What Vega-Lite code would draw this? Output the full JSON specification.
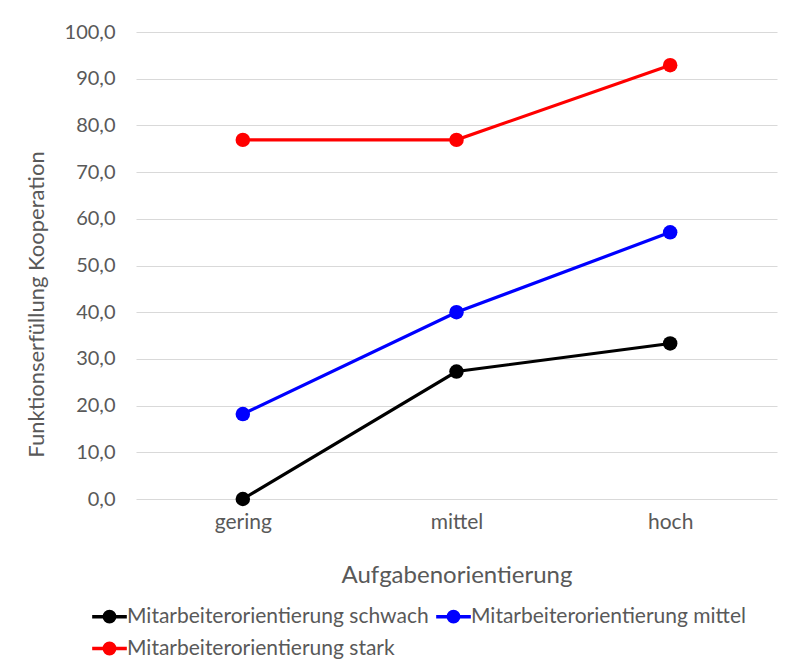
{
  "$schema": "https://vega.github.io/schema/vega-lite/v6.json",
  "autosize": "none",
  "width": 641,
  "height": 467,
  "padding": {"left": 136, "top": 32, "right": 12, "bottom": 164},
  "background": "white",
  "config": {
    "font": "Lato",
    "view": {"stroke": null}
  },
  "data": {
    "values": [
      {"a": "gering", "m": "Mitarbeiterorientierung schwach", "v": 0.0},
      {"a": "mittel", "m": "Mitarbeiterorientierung schwach", "v": 27.3},
      {"a": "hoch", "m": "Mitarbeiterorientierung schwach", "v": 33.3},
      {"a": "gering", "m": "Mitarbeiterorientierung mittel", "v": 18.2},
      {"a": "mittel", "m": "Mitarbeiterorientierung mittel", "v": 40.0},
      {"a": "hoch", "m": "Mitarbeiterorientierung mittel", "v": 57.1},
      {"a": "gering", "m": "Mitarbeiterorientierung stark", "v": 76.9},
      {"a": "mittel", "m": "Mitarbeiterorientierung stark", "v": 76.9},
      {"a": "hoch", "m": "Mitarbeiterorientierung stark", "v": 92.9}
    ]
  },
  "encoding": {
    "x": {
      "field": "a", "type": "nominal", "sort": ["gering", "mittel", "hoch"],
      "scale": {"type": "point", "padding": 0.5},
      "axis": {
        "title": "Aufgabenorientierung", "labelAngle": 0, "domain": false, "ticks": false,
        "labelFontSize": 21, "labelColor": "#595959", "labelPadding": 12,
        "titleFontSize": 24, "titleFontWeight": "normal", "titleColor": "#595959", "titlePadding": 31
      }
    },
    "y": {
      "field": "v", "type": "quantitative",
      "scale": {"domain": [0, 100], "nice": false},
      "axis": {
        "title": "Funktionserfüllung Kooperation", "values": [0,10,20,30,40,50,60,70,80,90,100],
        "labelExpr": "replace(format(datum.value, '.1f'), '.', ',')",
        "domain": false, "ticks": false, "gridColor": "#d9d9d9", "gridWidth": 1,
        "labelFontSize": 20, "labelColor": "#595959", "labelPadding": 21,
        "titleFontSize": 22, "titleFontWeight": "normal", "titleColor": "#595959", "titlePadding": 16,
        "titleY": 272
      }
    },
    "color": {
      "field": "m", "type": "nominal",
      "sort": ["Mitarbeiterorientierung schwach", "Mitarbeiterorientierung mittel", "Mitarbeiterorientierung stark"],
      "scale": {"range": ["#000000", "#0000ff", "#ff0000"]},
      "legend": {
        "title": null, "orient": "none", "legendX": -46, "legendY": 565,
        "direction": "horizontal", "columns": 2, "columnPadding": 0, "rowPadding": 0,
        "symbolType": "M-1,0L1,0M-0.3,0A0.3,0.3,0,1,0,0.3,0A0.3,0.3,0,1,0,-0.3,0Z",
        "symbolSize": 1200, "symbolStrokeWidth": 3.5, "symbolOffset": 0,
        "labelFontSize": 21, "labelColor": "#595959", "labelOffset": -2, "labelLimit": 400
      }
    }
  },
  "layer": [
    {"mark": {"type": "line", "strokeWidth": 3.2}},
    {"mark": {"type": "point", "filled": true, "size": 210, "opacity": 1}}
  ]
}
